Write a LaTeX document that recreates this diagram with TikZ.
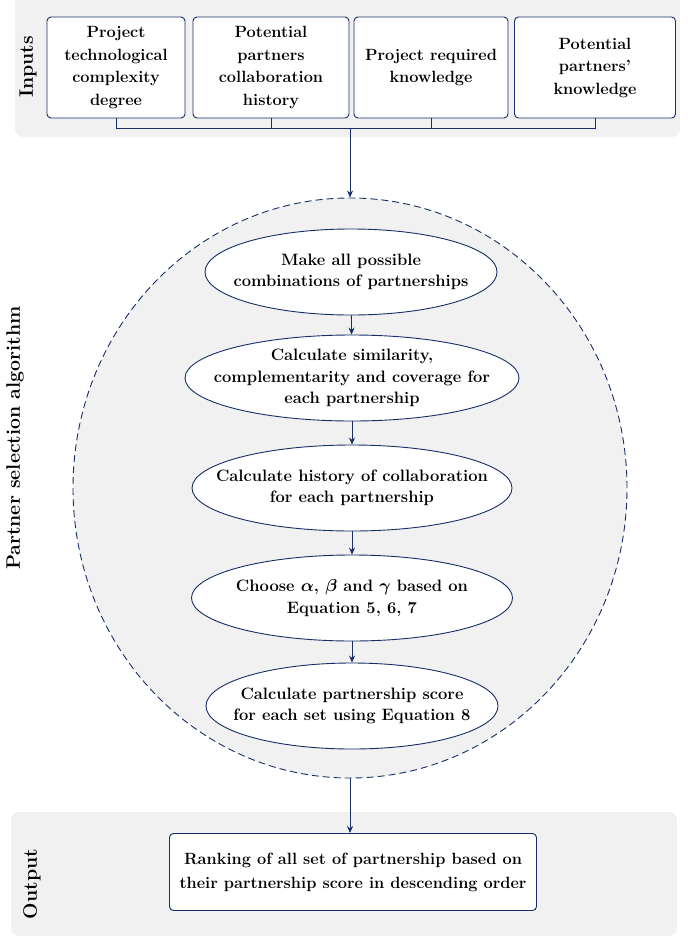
\documentclass[tikz,border=0pt]{standalone}
\usepackage{fontspec}
\usepackage{amsmath}
\usepackage{amssymb}
\usepackage{tikz}
\usetikzlibrary{arrows.meta}
\usetikzlibrary{shapes.geometric}
\definecolor{navy}{RGB}{24,46,104}
\definecolor{bggray}{RGB}{241,241,241}
\tikzstyle{backdrop} = [fill=bggray, rounded corners=8pt]
\tikzstyle{input} = [draw=navy, line width=0.9pt, fill=white, rounded corners=4pt, minimum height=101pt, align=center, font=\fontsize{16.3}{22.5}\selectfont\bfseries]
\tikzstyle{algo} = [draw=navy, line width=0.9pt, fill=bggray, ellipse, dash pattern=on 7pt off 4pt, minimum width=554pt, minimum height=580pt]
\tikzstyle{stage} = [draw=navy, line width=0.9pt, fill=white, ellipse, minimum height=86pt]
\tikzstyle{stagetext} = [align=center, font=\fontsize{16.5}{21.5}\selectfont\bfseries]
\tikzstyle{result} = [draw=navy, line width=0.9pt, fill=white, rounded corners=4pt, minimum width=367pt, minimum height=77pt, align=center, font=\fontsize{16.3}{24}\selectfont\bfseries]
\tikzstyle{side} = [rotate=90, font=\fontsize{19.5}{24}\selectfont\bfseries]
\tikzstyle{link} = [draw=navy, line width=0.9pt]
\tikzstyle{arrow} = [navy, line width=0.9pt, -{Stealth[length=7pt, width=6pt]}]

\begin{document}
\begin{tikzpicture}[x=1pt, y=-1pt]
	\clip (0,0) rectangle (694,937);
	\fill[backdrop] (15,-10) rectangle (680,137);
	\fill[backdrop] (11,812) rectangle (677,936);
	\node[side](lin) at (28,67){Inputs};
	\node[side](lalgo) at (15,438){Partner selection algorithm};
	\node[side](lout) at (32,884){Output};
	\node[input, minimum width=138pt](in1) at (116,67.5){Project\\technological\\complexity\\degree};
	\node[input, minimum width=156pt](in2) at (271,67.5){Potential\\partners\\collaboration\\history};
	\node[input, minimum width=154pt](in3) at (431,67.5){Project required\\knowledge};
	\node[input, minimum width=161pt](in4) at (595,67.5){Potential\\partners'\\knowledge};
	\coordinate(jn) at (350,128);
	\node[algo](algo) at (350,488){};
	\node[stage, minimum width=292pt](e1) at (351,272){};
	\node[stagetext](t1) at (e1){Make all possible\\combinations of partnerships};
	\node[stage, minimum width=334pt](e2) at (352,378){};
	\node[stagetext](t2) at (e2){Calculate similarity,\\complementarity and coverage for\\each partnership};
	\node[stage, minimum width=320pt](e3) at (352,488){};
	\node[stagetext](t3) at (e3){Calculate history of collaboration\\for each partnership};
	\node[stage, minimum width=321pt](e4) at (352,598){};
	\node[stagetext](t4) at (e4){Choose $\boldsymbol{\alpha}$, $\boldsymbol{\beta}$ and $\boldsymbol{\gamma}$ based on\\Equation 5, 6, 7};
	\node[stage, minimum width=292pt](e5) at (352,706){};
	\node[stagetext](t5) at (e5){Calculate partnership score\\for each set using Equation 8};
	\node[result](out) at (353,872){Ranking of all set of partnership based on\\their partnership score in descending order};
	\draw[link](in1.south) |- (jn);
	\draw[link](in2.south) |- (jn);
	\draw[link](in3.south) |- (jn);
	\draw[link](in4.south) |- (jn);
	\draw[arrow](jn) -- (algo.north);
	\draw[arrow](e1) -- (e2);
	\draw[arrow](e2) -- (e3);
	\draw[arrow](e3) -- (e4);
	\draw[arrow](e4) -- (e5);
	\draw[arrow](algo.south) -- (algo.south |- out.north);
\end{tikzpicture}
\end{document}
